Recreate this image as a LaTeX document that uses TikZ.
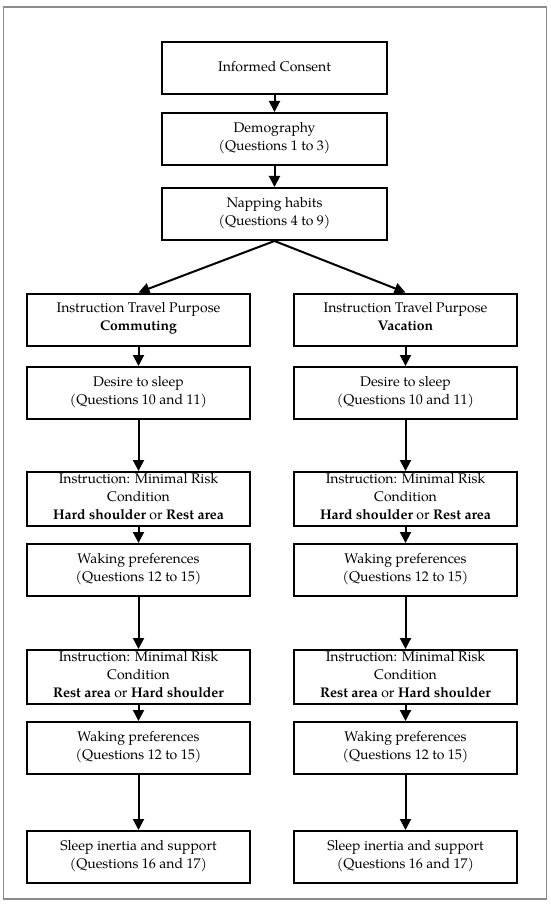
\documentclass[tikz,border=0pt]{standalone}
\usepackage{fontspec}
\setmainfont{TeX Gyre Pagella}
\usetikzlibrary{arrows.meta}
\begin{document}
\begin{tikzpicture}[x=1pt,y=-1pt,
  box/.style={draw, line width=2pt, minimum width=223pt, minimum height=52pt, align=center, inner sep=0pt, font=\fontsize{14}{18}\selectfont, execute at begin node=\strut, execute at end node=\strut},
  mrc/.style={box, minimum height=54pt},
  arr/.style={-{Triangle[length=11pt,width=11pt]}, line width=2pt}]
\useasboundingbox (0,0) rectangle (550,904);
\draw[black!45, line width=1.2pt] (3.5,7) rectangle (546.5,899);
\node[box, minimum width=225pt] (ic) at (274.5,68) {Informed Consent};
\node[box, minimum width=225pt] (demo) at (274.5,139) {Demography\\(Questions 1 to 3)};
\node[box, minimum width=225pt] (nap) at (274.5,214) {Napping habits\\(Questions 4 to 9)};
% left column
\node[box] (tl) at (138.5,319.5) {Instruction Travel Purpose\\\textbf{Commuting}};
\node[box] (dl) at (138.5,393) {Desire to sleep\\(Questions 10 and 11)};
\node[mrc] (ml1) at (138.5,499) {Instruction: Minimal Risk\\Condition\\\textbf{Hard shoulder} or \textbf{Rest area}};
\node[box] (wl1) at (138.5,570) {Waking preferences\\(Questions 12 to 15)};
\node[mrc] (ml2) at (138.5,677) {Instruction: Minimal Risk\\Condition\\\textbf{Rest area} or \textbf{Hard shoulder}};
\node[box] (wl2) at (138.5,748) {Waking preferences\\(Questions 12 to 15)};
\node[box] (sl) at (138.5,857) {Sleep inertia and support\\(Questions 16 and 17)};
% right column
\node[box] (tr) at (405.5,319.5) {Instruction Travel Purpose\\\textbf{Vacation}};
\node[box] (dr) at (405.5,393) {Desire to sleep\\(Questions 10 and 11)};
\node[mrc] (mr1) at (405.5,499) {Instruction: Minimal Risk\\Condition\\\textbf{Hard shoulder} or \textbf{Rest area}};
\node[box] (wr1) at (405.5,570) {Waking preferences\\(Questions 12 to 15)};
\node[mrc] (mr2) at (405.5,677) {Instruction: Minimal Risk\\Condition\\\textbf{Rest area} or \textbf{Hard shoulder}};
\node[box] (wr2) at (405.5,748) {Waking preferences\\(Questions 12 to 15)};
\node[box] (sr) at (405.5,857) {Sleep inertia and support\\(Questions 16 and 17)};
% arrows
\draw[arr] (ic) -- (demo);
\draw[arr] (demo) -- (nap);
\draw[arr] (nap.south) -- (tl.north);
\draw[arr] (nap.south) -- (tr.north);
\foreach \a/\b in {tl/dl, dl/ml1, ml1/wl1, wl1/ml2, ml2/wl2, wl2/sl, tr/dr, dr/mr1, mr1/wr1, wr1/mr2, mr2/wr2, wr2/sr}
  \draw[arr] (\a) -- (\b);
\end{tikzpicture}
\end{document}
